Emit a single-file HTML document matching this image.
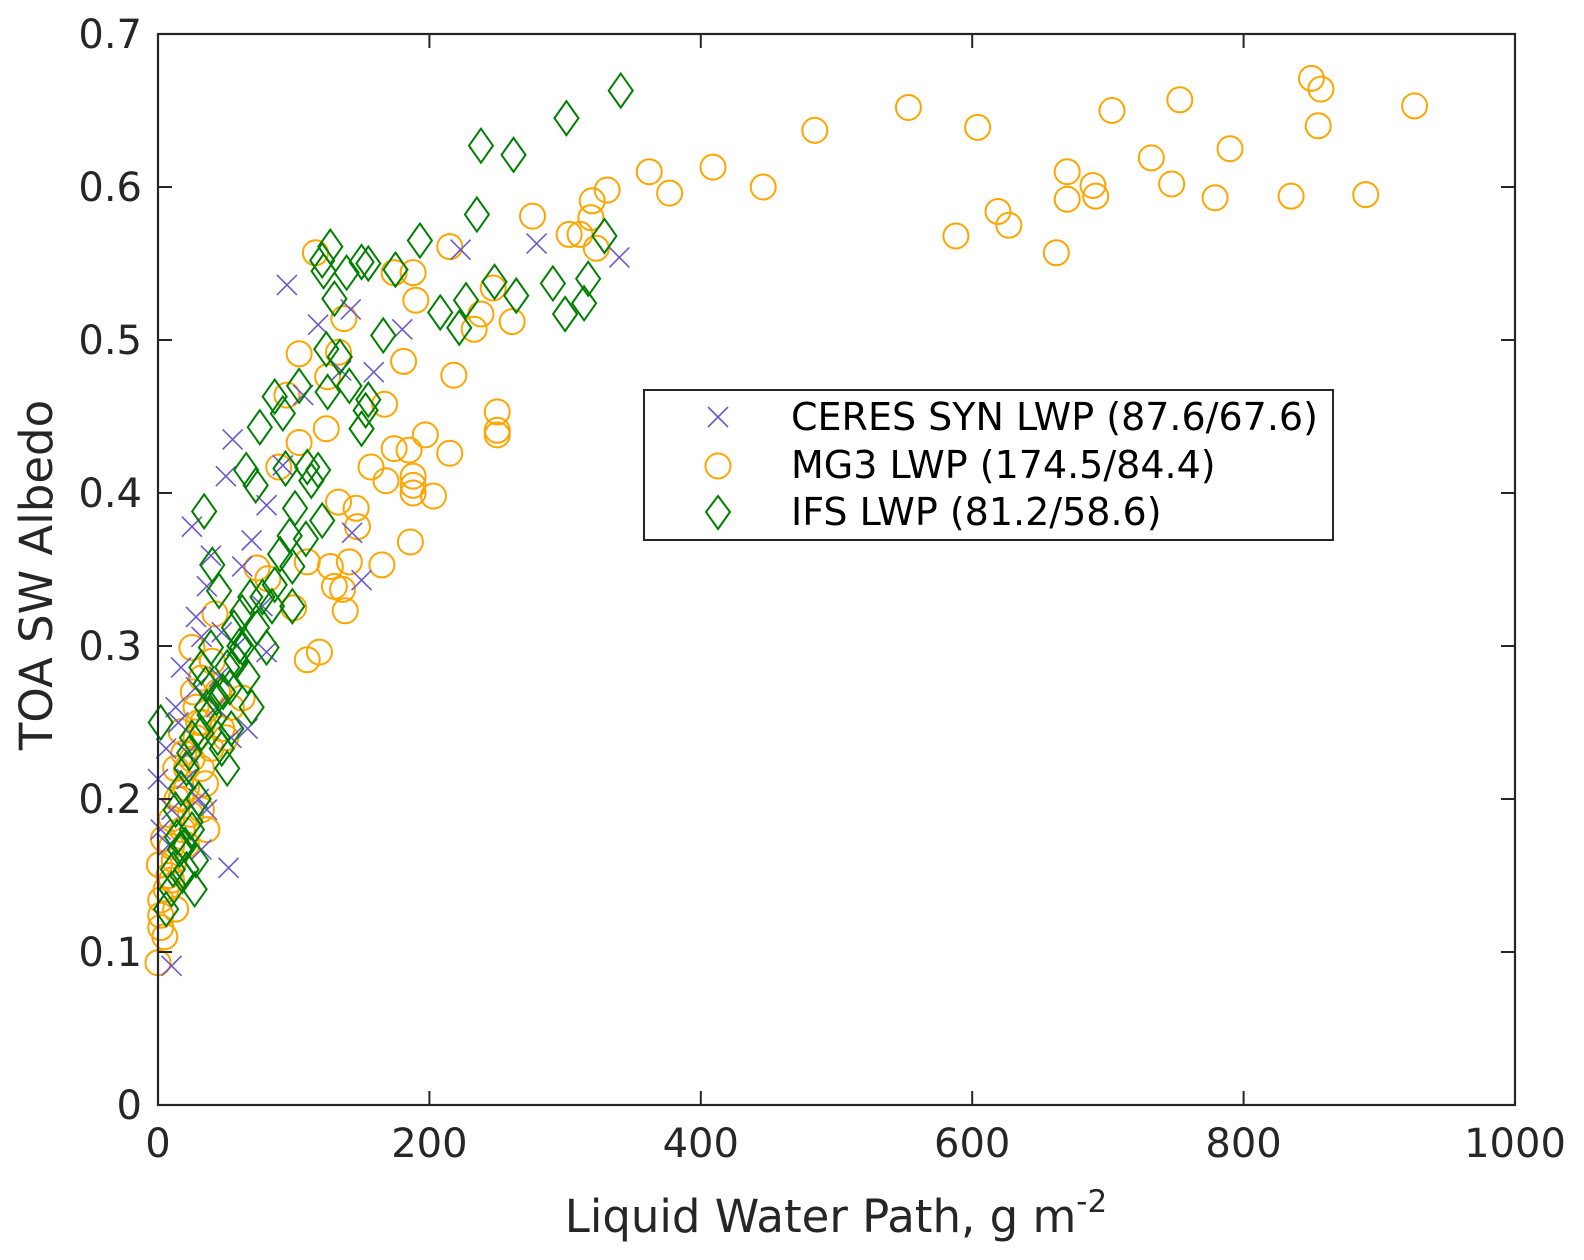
<!DOCTYPE html>
<html><head><meta charset="utf-8"><style>
html,body{margin:0;padding:0;background:#fff;}
svg{display:block;font-family:"DejaVu Sans","Liberation Sans",sans-serif;}
</style></head><body>
<svg id="chart" width="1584" height="1260" viewBox="0 0 1584 1260" xmlns="http://www.w3.org/2000/svg">
<rect x="0" y="0" width="1584" height="1260" fill="#fff"/>
<g id="marks"></g>
<g id="axes"></g>
<text x="836" y="1232" font-size="45" fill="#262626" text-anchor="middle">Liquid Water Path, g m<tspan dy="-20" font-size="31">-2</tspan></text>
<text transform="translate(52,575) rotate(-90)" font-size="45" fill="#262626" text-anchor="middle">TOA SW Albedo</text>
<g>
<rect x="644" y="390" width="689" height="150" fill="#fff" stroke="#262626" stroke-width="2"/>
<g>
<path d="M708,407 L728,427 M728,407 L708,427" stroke="#6a5acd" stroke-width="1.6" fill="none"/>
<text x="791" y="430" font-size="38" fill="#000">CERES SYN LWP (87.6/67.6)</text></g>
<g>
<circle cx="718" cy="466" r="12.5" fill="none" stroke="#ffa500" stroke-width="2"/>
<text x="791" y="478" font-size="38" fill="#000">MG3 LWP (174.5/84.4)</text></g>
<g>
<path d="M718,496 L730,512 L718,529 L706,512 Z" fill="none" stroke="#008000" stroke-width="2"/>
<text x="791" y="525" font-size="38" fill="#000">IFS LWP (81.2/58.6)</text></g>
</g>
</svg>
<script>
const xTicks=[0,200,400,600,800,1000];
const yTicks=[0,0.1,0.2,0.3,0.4,0.5,0.6,0.7];
const yTickLabels=["0","0.1","0.2","0.3","0.4","0.5","0.6","0.7"];

const mg3X=[553,850,857,855,926,890,835,753,703,790,779,747,732,689,691,670,670,662,604,619,627,588,484,446,409,377,362,331,320,319,311,323,303,276,261,250,250,250,247,238,233,215,218,215,203,197,190,188,188,188,188,185,186,181,174,174,168,165,167,157,146,147,141,138,136,133,137,133,130,127,125,124,119,116,110,110,104,104,100,95,89,81,73,0,2,2,1,6,10,10,13,17,21,25,28,32,25,32,36,42,39,47,54,62,17,10,21,32,28,2,13,4,21,8,14,19,24,30,35,44,50,5,12,18,26,33,40];
const mg3Y=[0.652,0.671,0.664,0.640,0.653,0.595,0.594,0.657,0.650,0.625,0.593,0.602,0.619,0.601,0.594,0.610,0.592,0.557,0.639,0.584,0.575,0.568,0.637,0.600,0.613,0.596,0.610,0.598,0.591,0.580,0.569,0.560,0.569,0.581,0.512,0.453,0.441,0.438,0.534,0.517,0.507,0.561,0.477,0.426,0.398,0.438,0.526,0.544,0.411,0.405,0.400,0.428,0.368,0.486,0.544,0.429,0.408,0.353,0.458,0.417,0.390,0.378,0.355,0.323,0.337,0.394,0.514,0.492,0.339,0.352,0.476,0.442,0.296,0.557,0.291,0.355,0.433,0.491,0.325,0.464,0.417,0.344,0.351,0.093,0.116,0.124,0.157,0.141,0.169,0.187,0.220,0.244,0.207,0.299,0.260,0.279,0.226,0.193,0.180,0.321,0.233,0.246,0.260,0.266,0.200,0.147,0.220,0.220,0.240,0.134,0.128,0.174,0.170,0.150,0.200,0.230,0.190,0.250,0.210,0.270,0.240,0.110,0.160,0.180,0.270,0.250,0.290];

const ceresX=[95,223,279,340,118,142,180,159,150,143,135,55,50,25,52,10,0,36,39,32,47,17,28,13,6,21,36,32,66,69,80,62,77,10,107,92,2,54,43,28,80,15,22,45,58,8,30];
const ceresY=[0.536,0.559,0.563,0.554,0.510,0.520,0.507,0.479,0.343,0.374,0.480,0.435,0.411,0.378,0.155,0.091,0.213,0.339,0.359,0.306,0.309,0.286,0.273,0.260,0.233,0.213,0.193,0.167,0.246,0.369,0.392,0.352,0.326,0.193,0.464,0.418,0.180,0.240,0.260,0.319,0.296,0.250,0.230,0.280,0.300,0.170,0.200];

const ifsX=[341,301,238,262,235,193,127,121,122,150,155,175,139,329,317,291,264,248,227,208,222,314,300,130,166,124,134,141,150,153,155,125,104,86,75,92,94,110,118,113,101,121,34,65,72,97,109,90,99,86,77,84,68,62,56,62,51,53,43,36,40,45,32,47,51,25,21,17,13,25,16,21,10,6,2,27,66,69,80,73,99,32,39,54,11,28,20,24,30,18,14,23,38,48,58,44,60,35];
const ifsY=[0.663,0.645,0.627,0.621,0.582,0.565,0.561,0.552,0.545,0.551,0.550,0.546,0.544,0.568,0.540,0.537,0.529,0.538,0.526,0.518,0.508,0.524,0.517,0.527,0.503,0.494,0.489,0.470,0.442,0.454,0.461,0.466,0.470,0.463,0.443,0.452,0.416,0.417,0.415,0.408,0.390,0.382,0.388,0.415,0.405,0.372,0.370,0.360,0.352,0.340,0.332,0.326,0.332,0.322,0.312,0.299,0.286,0.273,0.266,0.260,0.353,0.336,0.243,0.233,0.220,0.240,0.220,0.207,0.193,0.180,0.167,0.154,0.141,0.128,0.250,0.141,0.280,0.260,0.299,0.312,0.326,0.286,0.299,0.246,0.154,0.160,0.170,0.185,0.200,0.150,0.175,0.230,0.255,0.270,0.290,0.240,0.300,0.275];

const X0=158,X1=1515,Y0=1105,Y1=34;
function sx(v){return X0+(v-0)/(1000-0)*(X1-X0);}
function sy(v){return Y0-(v-0)/(0.7-0)*(Y0-Y1);}
const NS="http://www.w3.org/2000/svg";
const marks=document.getElementById('marks');
const axes=document.getElementById('axes');
function mk(tag,attrs,parent){const e=document.createElementNS(NS,tag);for(const k in attrs)e.setAttribute(k,attrs[k]);parent.appendChild(e);return e;}

for(let i=0;i<mg3X.length;i++){
  const c=mk('circle',{cx:sx(mg3X[i]),cy:sy(mg3Y[i]),r:12.5,fill:'none',stroke:'#ffa500','stroke-width':2},marks);
  
  
}
for(let i=0;i<ceresX.length;i++){
  const x=sx(ceresX[i]),y=sy(ceresY[i]);
  const p=mk('path',{d:`M${x-10},${y-10}L${x+10},${y+10}M${x+10},${y-10}L${x-10},${y+10}`,fill:'none',stroke:'#6a5acd','stroke-width':1.6},marks);
  
  
}
for(let i=0;i<ifsX.length;i++){
  const x=sx(ifsX[i]),y=sy(ifsY[i]);
  const p=mk('path',{d:`M${x},${y-17}L${x+12},${y}L${x},${y+17}L${x-12},${y}Z`,fill:'none',stroke:'#008000','stroke-width':2},marks);
  
  
}
const box=mk('rect',{x:X0,y:Y1,width:X1-X0,height:Y0-Y1,fill:'none',stroke:'#262626','stroke-width':2.2},axes);


xTicks.forEach(v=>{
  const x=sx(v);
  mk('line',{x1:x,y1:Y0,x2:x,y2:Y0-14,stroke:'#262626','stroke-width':2},axes);
  mk('line',{x1:x,y1:Y1,x2:x,y2:Y1+14,stroke:'#262626','stroke-width':2},axes);
  const t=mk('text',{x:x,y:Y0+52,'font-size':40,fill:'#262626','text-anchor':'middle'},axes);
  t.textContent=String(v);
  
  
});
yTicks.forEach((v,i)=>{
  const y=sy(v);
  mk('line',{x1:X0,y1:y,x2:X0+14,y2:y,stroke:'#262626','stroke-width':2},axes);
  mk('line',{x1:X1,y1:y,x2:X1-14,y2:y,stroke:'#262626','stroke-width':2},axes);
  const t=mk('text',{x:X0-16,y:y+14,'font-size':40,fill:'#262626','text-anchor':'end'},axes);
  t.textContent=yTickLabels[i];
  
  
});
</script>
</body></html>
